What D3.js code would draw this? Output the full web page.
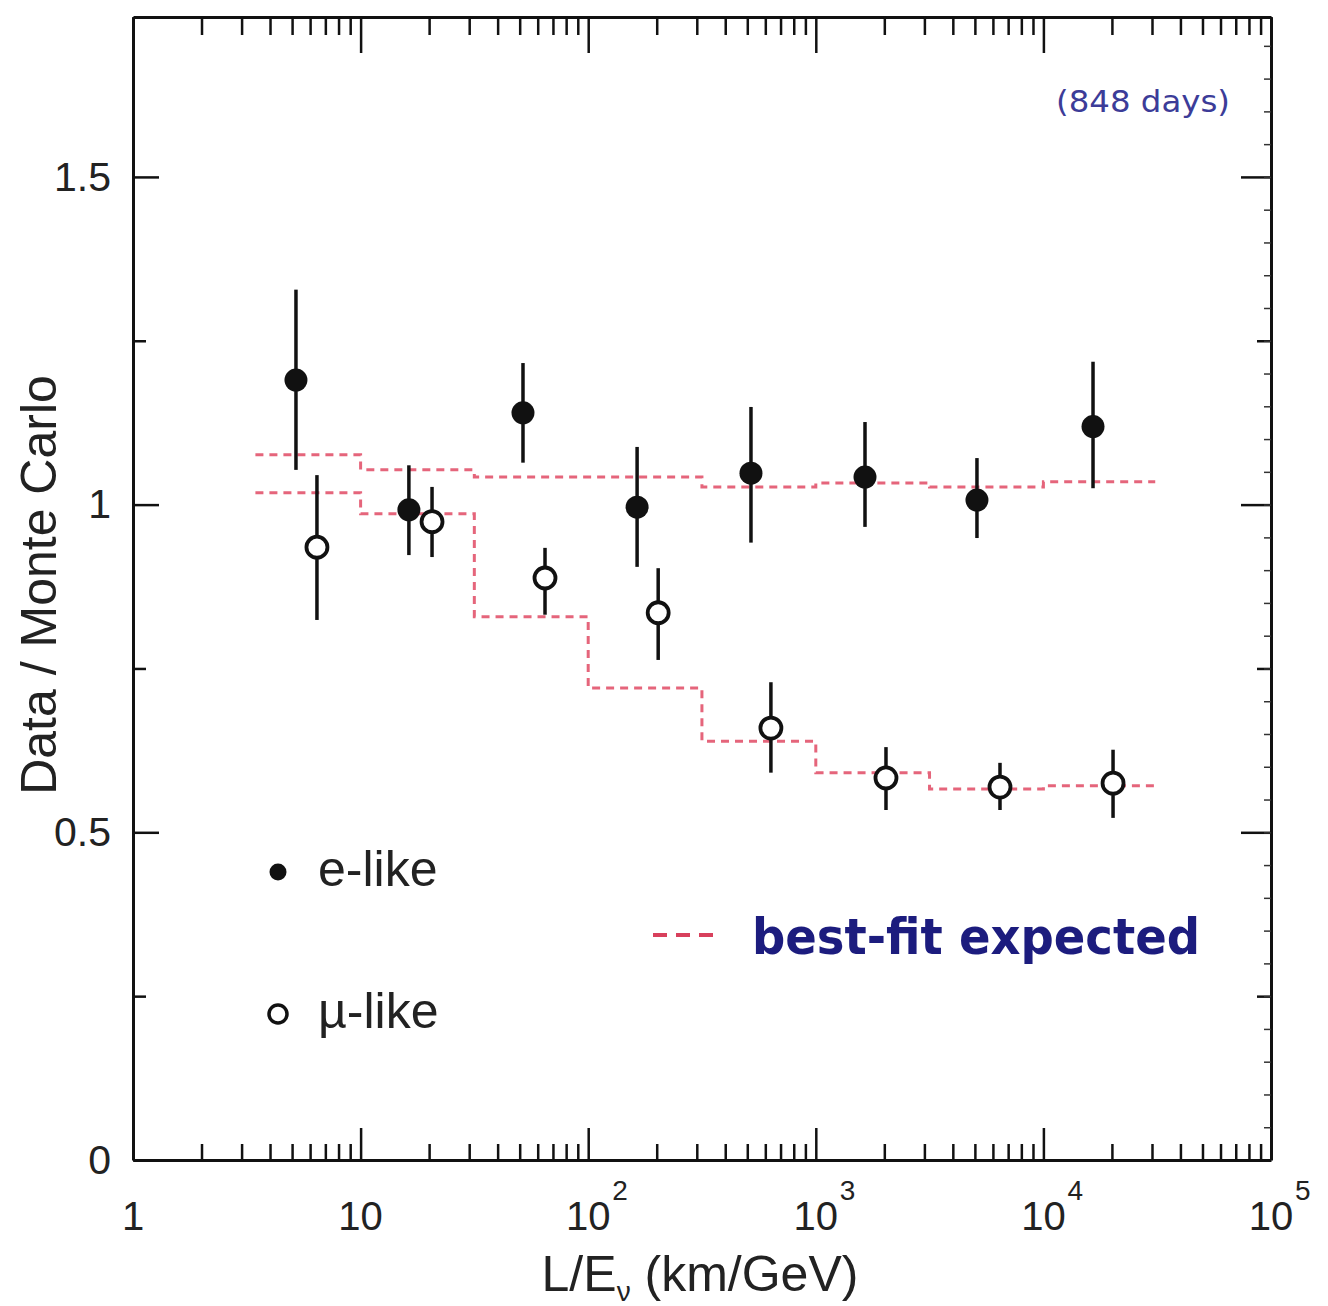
<!DOCTYPE html>
<html><head><meta charset="utf-8">
<script src="https://cdn.jsdelivr.net/npm/d3@7"></script>
<style>body{margin:0;background:#fff}</style>
</head><body>
<svg id="c" width="1328" height="1306"></svg>
<script>
// ---- data ----
const eX   = [5.2, 16.3, 51.7, 164, 519, 1645, 5106, 16520];
const eY   = [1.190, 0.992, 1.140, 0.996, 1.048, 1.042, 1.007, 1.119];
const eHi  = [1.328, 1.060, 1.216, 1.088, 1.149, 1.126, 1.071, 1.218];
const eLo  = [1.053, 0.923, 1.064, 0.905, 0.942, 0.966, 0.949, 1.025];
const muX  = [6.43, 20.6, 64.6, 203, 635, 2034, 6446, 20230];
const muY  = [0.935, 0.974, 0.888, 0.835, 0.659, 0.583, 0.569, 0.575];
const muHi = [1.045, 1.027, 0.934, 0.903, 0.729, 0.630, 0.606, 0.626];
const muLo = [0.824, 0.920, 0.832, 0.763, 0.591, 0.534, 0.534, 0.522];
const binEdges   = [3.45, 10, 31.6, 100, 316, 1000, 3160, 10000, 31000];
const eExpected  = [1.076, 1.053, 1.042, 1.042, 1.027, 1.033, 1.027, 1.035];
const muExpected = [1.018, 0.986, 0.829, 0.720, 0.639, 0.591, 0.566, 0.571];
const xTickValues = [1, 10, 100, 1000, 10000, 100000];
const xTickBase   = ["1", "10", "10", "10", "10", "10"];
const xTickExp    = ["", "", "2", "3", "4", "5"];
const yTickValues = [0, 0.5, 1, 1.5];
const yTickLabels = ["0", "0.5", "1", "1.5"];
const yMinorValues = [0.25, 0.75, 1.25];
const yTitle = "Data / Monte Carlo";
const periodLabel = "(848 days)";
const legendE = "e-like", legendMu = "\u00b5-like", legendFit = "best-fit expected";

// ---- scales ----
const svg = d3.select("#c");
const L = 133, R = 1271, T = 17, B = 1160;
const x = d3.scaleLog().domain([1, 1e5]).range([L, R]);
const y = d3.scaleLinear().domain([0, 1.744]).range([B, T]);
const FONT = "'Liberation Sans', Arial, sans-serif";
const RED = "#e04a64";

const majorSet = new Set(xTickValues);
const xMinor = x.ticks().filter(v => !majorSet.has(v) && v < 1e5);

function styleAxis(g) {
  g.select(".domain").attr("stroke", "#111").attr("stroke-width", 3);
  g.selectAll(".tick line").attr("stroke", "#111").attr("stroke-width", 2.5);
}

// bottom axis
svg.append("g").attr("transform", `translate(0,${B})`)
  .call(d3.axisBottom(x).tickValues(xTickValues).tickSize(-32).tickSizeOuter(0).tickFormat(""))
  .call(styleAxis);
svg.append("g").attr("transform", `translate(0,${B})`)
  .call(d3.axisBottom(x).tickValues(xMinor).tickSize(-16).tickSizeOuter(0).tickFormat(""))
  .call(styleAxis).select(".domain").remove();
// top axis
svg.append("g").attr("transform", `translate(0,${T})`)
  .call(d3.axisTop(x).tickValues(xTickValues).tickSize(-36).tickSizeOuter(0).tickFormat(""))
  .call(styleAxis);
svg.append("g").attr("transform", `translate(0,${T})`)
  .call(d3.axisTop(x).tickValues(xMinor).tickSize(-18).tickSizeOuter(0).tickFormat(""))
  .call(styleAxis).select(".domain").remove();
// left axis
const gl = svg.append("g").attr("transform", `translate(${L},0)`)
  .call(d3.axisLeft(y).tickValues(yTickValues).tickSize(-26).tickSizeOuter(0).tickPadding(22)
    .tickFormat((d, i) => yTickLabels[i]))
  .call(styleAxis);
gl.selectAll(".tick text").attr("font-family", FONT).attr("font-size", 41).attr("fill", "#222");
svg.append("g").attr("transform", `translate(${L},0)`)
  .call(d3.axisLeft(y).tickValues(yMinorValues).tickSize(-13).tickSizeOuter(0).tickFormat(""))
  .call(styleAxis).select(".domain").remove();
// right axis
svg.append("g").attr("transform", `translate(${R},0)`)
  .call(d3.axisRight(y).tickValues(yTickValues.slice(1)).tickSize(-30).tickSizeOuter(0).tickFormat(""))
  .call(styleAxis);
svg.append("g").attr("transform", `translate(${R},0)`)
  .call(d3.axisRight(y).tickValues(yMinorValues).tickSize(-14).tickSizeOuter(0).tickFormat(""))
  .call(styleAxis).select(".domain").remove();
const fine = d3.range(0.05, 1.74, 0.05);
svg.append("g").attr("transform", `translate(${R},0)`)
  .call(d3.axisRight(y).tickValues(fine).tickSize(-7).tickSizeOuter(0).tickFormat(""))
  .call(g => { g.select(".domain").remove(); g.selectAll(".tick line").attr("stroke", "#333").attr("stroke-width", 1.5); });

// x tick labels
const xl = svg.append("g").attr("font-family", FONT).attr("fill", "#222");
xTickValues.forEach((v, i) => {
  xl.append("text").attr("x", x(v)).attr("y", 1230).attr("text-anchor", "middle")
    .attr("font-size", 40).text(xTickBase[i]);
  if (xTickExp[i]) {
    xl.append("text").attr("x", x(v) + 24).attr("y", 1200).attr("text-anchor", "start")
      .attr("font-size", 28).text(xTickExp[i]);
  }
});

// axis titles
svg.append("text").attr("transform", `translate(56,585) rotate(-90)`)
  .attr("text-anchor", "middle").attr("font-family", FONT).attr("font-size", 50).attr("fill", "#222")
  .text(yTitle);
const xt = svg.append("text").attr("x", 700).attr("y", 1291).attr("text-anchor", "middle")
  .attr("font-family", FONT).attr("font-size", 50).attr("fill", "#222");
xt.append("tspan").text("L/E");
xt.append("tspan").attr("font-size", 28).attr("dy", 10).text("\u03bd");
xt.append("tspan").attr("dy", -10).text(" (km/GeV)");

// expected step lines
const stepLine = d3.line().x(d => x(d[0])).y(d => y(d[1])).curve(d3.curveStepAfter);
function stepPts(vals) {
  const p = vals.map((v, i) => [binEdges[i], v]);
  p.push([binEdges[binEdges.length - 1], vals[vals.length - 1]]);
  return p;
}
[eExpected, muExpected].forEach(vals => {
  svg.append("path").attr("d", stepLine(stepPts(vals))).attr("fill", "none")
    .attr("stroke", RED).attr("stroke-width", 3).attr("stroke-dasharray", "8,6").attr("opacity", 0.85);
});

// error bars
function errBars(xs, lo, hi) {
  svg.append("g").selectAll("line").data(xs).join("line")
    .attr("x1", d => x(d)).attr("x2", d => x(d))
    .attr("y1", (d, i) => y(lo[i])).attr("y2", (d, i) => y(hi[i]))
    .attr("stroke", "#111").attr("stroke-width", 3.5);
}
errBars(eX, eLo, eHi);
errBars(muX, muLo, muHi);

svg.append("g").selectAll("circle").data(eX).join("circle")
  .attr("cx", d => x(d)).attr("cy", (d, i) => y(eY[i])).attr("r", 11.5).attr("fill", "#111");
svg.append("g").selectAll("circle").data(muX).join("circle")
  .attr("cx", d => x(d)).attr("cy", (d, i) => y(muY[i])).attr("r", 10.5)
  .attr("fill", "#fff").attr("stroke", "#111").attr("stroke-width", 3.8);

// legend
svg.append("circle").attr("cx", 278).attr("cy", 872).attr("r", 8.5).attr("fill", "#111");
svg.append("text").attr("x", 318).attr("y", 886).attr("font-family", FONT).attr("font-size", 50)
  .attr("fill", "#222").text(legendE);
svg.append("circle").attr("cx", 278).attr("cy", 1014).attr("r", 9).attr("fill", "#fff")
  .attr("stroke", "#111").attr("stroke-width", 3.5);
svg.append("text").attr("x", 318).attr("y", 1028).attr("font-family", FONT).attr("font-size", 50)
  .attr("fill", "#222").text(legendMu);
svg.append("line").attr("x1", 653).attr("x2", 713).attr("y1", 935).attr("y2", 935)
  .attr("stroke", "#d8405c").attr("stroke-width", 4).attr("stroke-dasharray", "14,9");
svg.append("text").attr("x", 752).attr("y", 954).attr("font-family", "'DejaVu Sans', sans-serif")
  .attr("font-weight", "bold").attr("font-size", 50).attr("fill", "#1c1c7e")
  .attr("textLength", 448).attr("lengthAdjust", "spacingAndGlyphs").text(legendFit);

// period label
svg.append("text").attr("x", 1230).attr("y", 112).attr("text-anchor", "end")
  .attr("font-family", "'DejaVu Sans', sans-serif").attr("font-size", 30).attr("fill", "#3c3c98")
  .attr("textLength", 174).attr("lengthAdjust", "spacingAndGlyphs")
  .text(periodLabel);
</script>
</body></html>
